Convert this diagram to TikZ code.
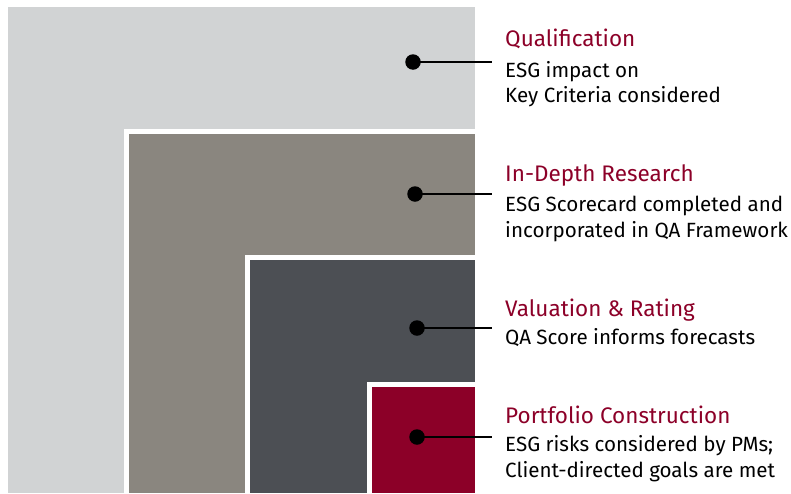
\documentclass[tikz,border=0pt]{standalone}
\usepackage{fontspec}
\setmainfont{Fira Sans}
\usepackage{xcolor}
\usepackage{tikz}
\usetikzlibrary{calc}

\definecolor{qualgray}{HTML}{D1D3D4}
\definecolor{researchgray}{HTML}{8A867F}
\definecolor{valgray}{HTML}{4C4F54}
\definecolor{portred}{HTML}{8C0028}

\begin{document}
\begin{tikzpicture}[x=1pt,y=-1pt,
  dot/.style={circle,fill=black,inner sep=0pt,minimum size=15.5pt},
  leader/.style={line width=1.5pt,black},
  stagetitle/.style={anchor=base west,inner sep=0pt,text=portred,font=\fontsize{22.5}{27}\selectfont},
  stagebody/.style={anchor=base west,inner sep=0pt,align=left,font=\fontsize{20.6}{25.5}\selectfont}]

\pgfmathsetmacro{\XR}{475}  % right edge of the squares
\pgfmathsetmacro{\XT}{505}  % left edge of the texts
\pgfmathsetmacro{\XE}{492}  % end of the leader lines

\useasboundingbox (0,0) rectangle (791,493);

% nested squares, each with a white rim
\fill[qualgray] (8,7) rectangle (\XR,493);
\fill[white] (124,128.5) rectangle (\XR,493);
\fill[researchgray] (129,133.5) rectangle (\XR,493);
\fill[white] (245,255.3) rectangle (\XR,493);
\fill[valgray] (250,260.3) rectangle (\XR,493);
\fill[white] (366.5,381.7) rectangle (\XR,493);
\fill[portred] (371.5,386.7) rectangle (\XR,493);

% Qualification
\node[dot] (dotQual) at (413,62) {};
\coordinate (endQual) at (\XE,62);
\draw[leader] (dotQual.center) -- (endQual);
\node[stagetitle] (titleQual) at (\XT,46) {Qualification};
\node[stagebody] (bodyQual) at (\XT,102.7) {ESG impact on\\Key Criteria considered}; % base = last line

% In-Depth Research
\node[dot] (dotRes) at (415,194) {};
\coordinate (endRes) at (\XE,194);
\draw[leader] (dotRes.center) -- (endRes);
\node[stagetitle] (titleRes) at (\XT,181.5) {In-Depth Research};
\node[stagebody] (bodyRes) at (\XT,237) {ESG Scorecard completed and\\incorporated in QA Framework};

% Valuation & Rating
\node[dot] (dotVal) at (417,328) {};
\coordinate (endVal) at (\XE,328);
\draw[leader] (dotVal.center) -- (endVal);
\node[stagetitle] (titleVal) at (\XT,316) {Valuation \& Rating};
\node[stagebody] (bodyVal) at (\XT,344.3) {QA Score informs forecasts};

% Portfolio Construction
\node[dot] (dotPort) at (417,437) {};
\coordinate (endPort) at (\XE,437);
\draw[leader] (dotPort.center) -- (endPort);
\node[stagetitle] (titlePort) at (\XT,423.3) {Portfolio Construction};
\node[stagebody] (bodyPort) at (\XT,477.3) {ESG risks considered by PMs;\\Client-directed goals are met};
\end{tikzpicture}
\end{document}
